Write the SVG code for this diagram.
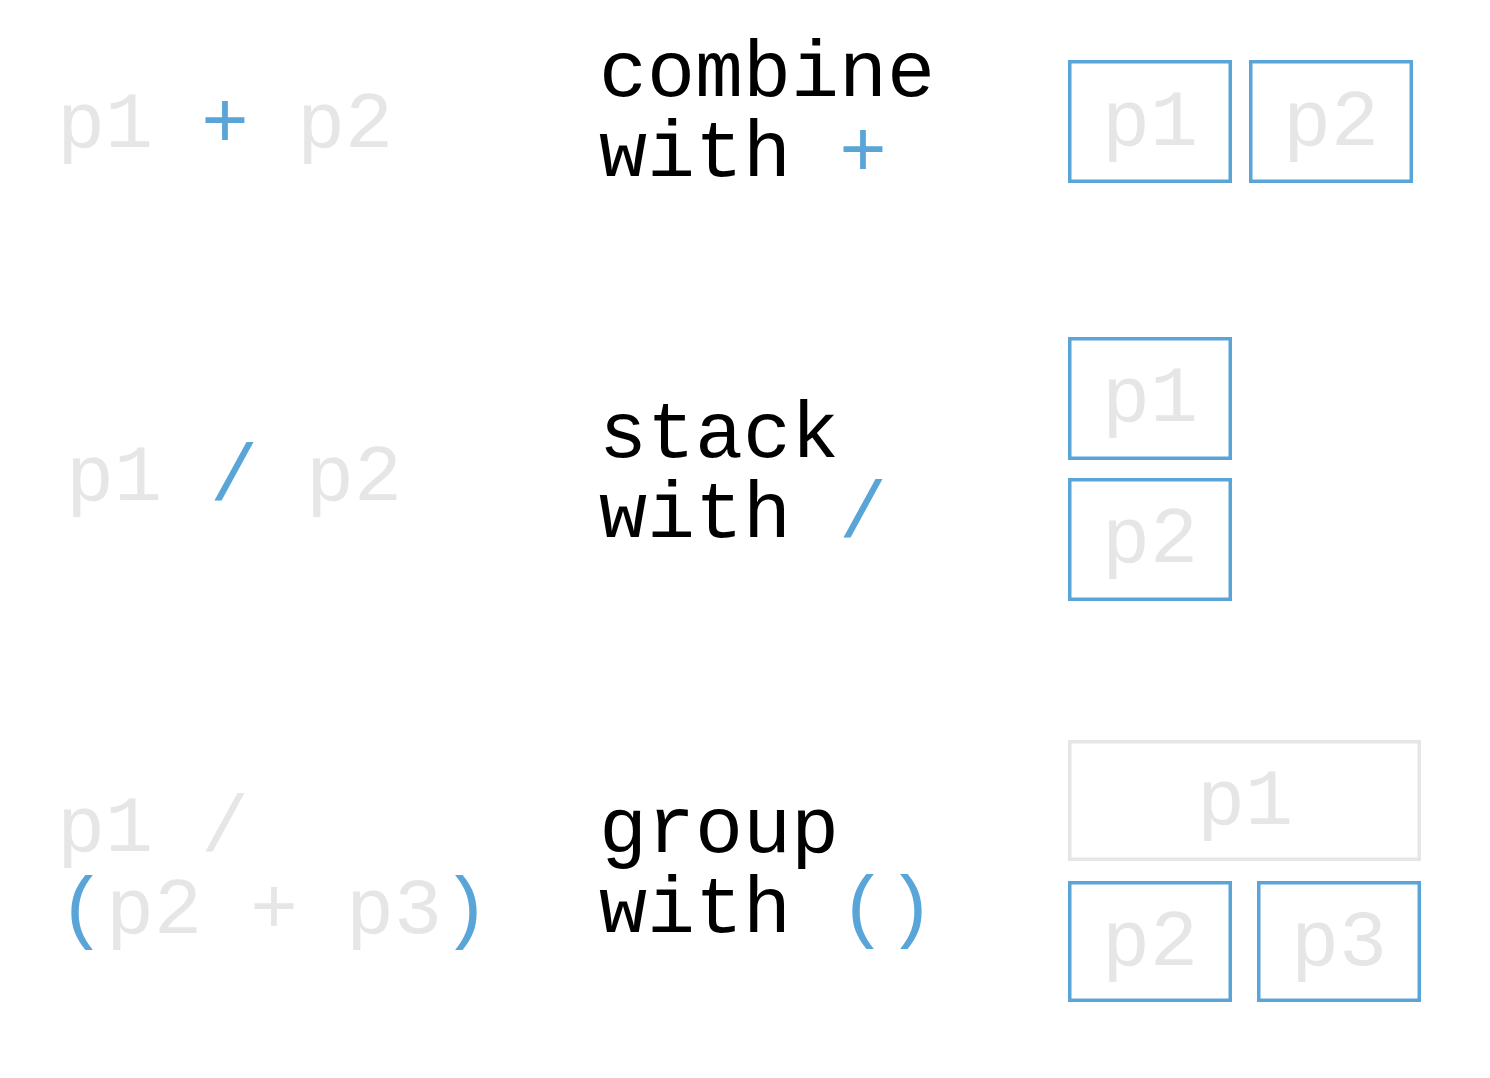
<svg xmlns="http://www.w3.org/2000/svg" width="1490" height="1078" viewBox="0 0 1490 1078">
<style>
text{font-family:"Liberation Mono","DejaVu Sans Mono",monospace;font-size:80px}
.g{fill:#e6e6e6}
.b{fill:#5aa5d8}
.k{fill:#000000}
.mid{text-anchor:middle}
.bx{fill:none;stroke:#5aa5d8;stroke-width:3.5}
.gx{fill:none;stroke:#e6e6e6;stroke-width:3.5}
</style>
<rect width="1490" height="1078" fill="#ffffff"/>
<g id="row1">
<g id="code1"><text x="57" y="147" class="g">p1 <tspan class="b">+</tspan> p2</text></g>
<g id="label1"><text x="599" y="96" class="k">combine</text><text x="599" y="176" class="k">with <tspan class="b">+</tspan></text></g>
<g id="r1p1"><rect x="1069.75" y="61.75" width="160.5" height="119.5" class="bx"/><text x="1150" y="145" class="g mid">p1</text></g>
<g id="r1p2"><rect x="1250.75" y="61.75" width="160.5" height="119.5" class="bx"/><text x="1331" y="145" class="g mid">p2</text></g>
</g>
<g id="row2">
<g id="code2"><text x="66" y="500" class="g">p1 <tspan class="b">/</tspan> p2</text></g>
<g id="label2"><text x="599" y="457" class="k">stack</text><text x="599" y="537" class="k">with <tspan class="b">/</tspan></text></g>
<g id="r2p1"><rect x="1069.75" y="338.75" width="160.5" height="119.5" class="bx"/><text x="1150" y="421" class="g mid">p1</text></g>
<g id="r2p2"><rect x="1069.75" y="479.75" width="160.5" height="119.5" class="bx"/><text x="1150" y="562" class="g mid">p2</text></g>
</g>
<g id="row3">
<g id="code3"><text x="57" y="851" class="g">p1 /</text><text x="58" y="933" class="g"><tspan class="b">(</tspan>p2 + p3<tspan class="b">)</tspan></text></g>
<g id="label3"><text x="599" y="852" class="k">group</text><text x="599" y="932" class="k">with <tspan class="b">()</tspan></text></g>
<g id="r3p1"><rect x="1069.75" y="741.75" width="349.5" height="117.5" class="gx"/><text x="1245" y="824" class="g mid">p1</text></g>
<g id="r3p2"><rect x="1069.75" y="882.75" width="160.5" height="117.5" class="bx"/><text x="1150" y="965" class="g mid">p2</text></g>
<g id="r3p3"><rect x="1258.75" y="882.75" width="160.5" height="117.5" class="bx"/><text x="1339" y="965" class="g mid">p3</text></g>
</g>
<g id="connectors"></g>
</svg>
